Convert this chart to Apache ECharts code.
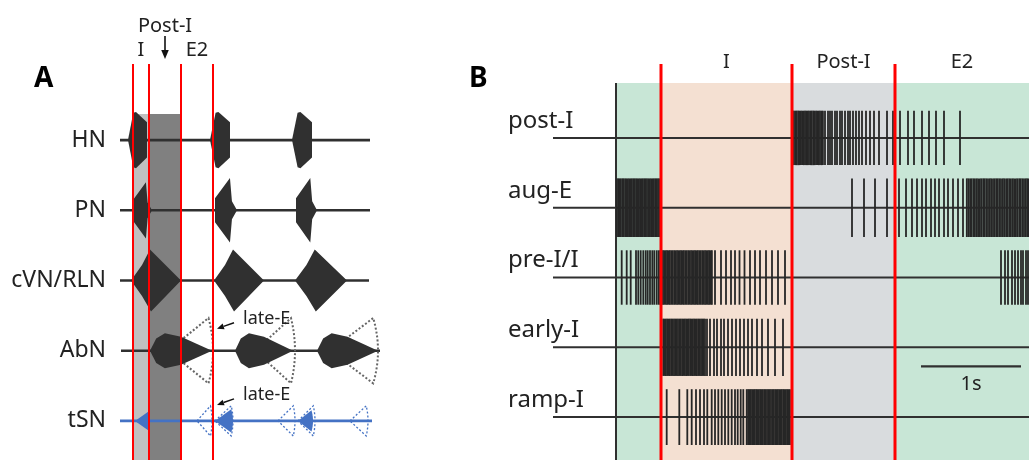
<!DOCTYPE html>
<html>
<head>
<meta charset="utf-8">
<script src="https://cdn.jsdelivr.net/npm/echarts@6/dist/echarts.min.js"></script>
<style>
  html, body { margin: 0; padding: 0; background: #fff; }
  #chart { width: 1029px; height: 460px; }
</style>
</head>
<body>
<div id="chart"></div>
<script>
// ---------- Panel A: nerve motor outputs over the respiratory cycle ----------
// time in arbitrary units, inspiration onset = 0
const nervesA = ['HN', 'PN', 'cVN/RLN', 'AbN', 'tSN'];
const phasesA = [['I', 0, 160], ['Post-I', 160, 480], ['E2', 480, 800]];
const phaseBoundsA = [0, 160, 480, 800];
const shadedPhasesA = ['I', 'Post-I'];
// recorded span of each trace [start, end]
const traceSpanA = [[-130, 2370], [-130, 2370], [-130, 2360], [-120, 2470], [-130, 2390]];
// bursts: [start, end, amplitude as fraction of half row height]
const hnBursts  = [[-50, 140, 0.8], [770, 970, 0.8], [1590, 1790, 0.8]];
const pnBursts  = [[0, 190, 0.8], [820, 1040, 0.92], [1630, 1840, 0.92]];
const cvnBursts = [[-20, 480, 0.88], [810, 1310, 0.88], [1620, 2140, 0.88]];
const abnBursts = [[170, 790, 0.5], [1020, 1600, 0.5], [1840, 2450, 0.5]];
const abnLateE  = [[350, 800, 0.93], [1220, 1620, 0.93], [1970, 2450, 0.93]];
const tsnBursts = [[20, 170, 0.27], [820, 1000, 0.33], [1650, 1800, 0.3]];
const tsnLateE  = [[640, 790, 0.43], [820, 1000, 0.43], [1450, 1620, 0.43], [1650, 1820, 0.43], [2170, 2350, 0.43]];
// late-E pointers: [time, row]
const lateEMarks = [[840, 3], [840, 4]];

// ---------- Panel B: respiratory neuron firing (time in ms, I onset = 0) ----------
const neuronsB = ['post-I', 'aug-E', 'pre-I/I', 'early-I', 'ramp-I'];
const windowStartB = -450;
const phasesB = [['E2', -450, 0, false], ['I', 0, 1310, true], ['Post-I', 1310, 2340, true], ['E2', 2340, 3680, true]];
const phaseBoundsB = [0, 1310, 2340];
const scaleBarB = [2600, 3600];

const spikesPostI = [
  1318, 1330, 1345, 1357, 1372, 1384, 1399, 1411, 1427, 1440, 1452, 1468, 1480, 1495, 1507,
  1522, 1535, 1550, 1561, 1577, 1590, 1605, 1619,
  1640, 1670, 1690, 1710, 1740, 1760, 1790, 1810, 1840, 1870, 1890, 1920, 1950, 1980, 2010,
  2050, 2090, 2130, 2180, 2260, 2320, 2390, 2470, 2530, 2610, 2680, 2750, 2830, 2990
];
const spikesAugE = [
  -441, -428, -414, -401, -386, -374, -359, -346, -331, -319, -304, -291, -277, -263, -249,
  -236, -221, -209, -194, -181, -167, -153, -140, -126, -111, -99, -84, -71, -57, -43, -30, -18,
  1910, 2030, 2140, 2260,
  2380, 2450, 2510, 2560, 2610, 2650, 2700, 2740, 2780, 2830, 2870, 2920, 2970, 3020,
  3058, 3074, 3091, 3106, 3124, 3139, 3156, 3171, 3189, 3204, 3222, 3237, 3254, 3270, 3287,
  3302, 3320, 3335, 3352, 3368, 3385, 3400, 3418, 3433, 3451, 3466, 3483, 3499, 3516, 3531,
  3549, 3564, 3582, 3597, 3614, 3630, 3647, 3662, 3678
];
const spikesPreI = [
  -393, -343, -303, -250, -227, -203, -177, -153, -133, -110, -87, -67, -43, -23,
  -8, 6, 20, 33, 48, 61, 76, 89, 104, 117, 132, 145, 160, 173, 188, 201, 216, 229, 244, 257,
  272, 285, 300, 313, 328, 341, 356, 369, 384, 397, 412, 425, 440, 453, 468, 481, 496, 509,
  540, 600, 650, 700, 740, 785, 835, 890, 940, 990, 1050, 1110, 1170, 1240,
  3400, 3440, 3470, 3510, 3540, 3570, 3600, 3620, 3650, 3670
];
const spikesEarlyI = [
  22, 35, 49, 62, 76, 89, 103, 116, 130, 143, 157, 170, 184, 197, 211, 224, 238, 251, 265,
  278, 292, 305, 319, 332, 346, 359, 373, 386, 400, 413, 427, 440,
  460, 490, 530, 560, 600, 630, 670, 710, 750, 790, 830, 870, 910, 960, 1010, 1070, 1140, 1220
];
const spikesRampI = [
  57, 183, 263, 307, 350, 390, 430, 463, 507, 540, 573, 607, 640, 673, 707, 740, 767, 797, 823,
  857, 871, 884, 898, 911, 925, 938, 952, 965, 979, 992, 1006, 1019, 1033, 1046, 1060, 1073,
  1087, 1100, 1114, 1127, 1141, 1154, 1168, 1181, 1195, 1208, 1222, 1235, 1249, 1262, 1276, 1289
];
const spikeTrainsB = [spikesPostI, spikesAugE, spikesPreI, spikesEarlyI, spikesRampI];

// ---------- styling ----------
const FONT = 'Noto Sans';
const INK = '#303030';
const TEXT = '#222';
const RED = '#ff0000';
const BLUE = '#4472c4';
const phaseFillB = { 'I': '#f4e0d2', 'Post-I': '#d9dcde', 'E2': '#c8e6d6' };
const shadeFillA = { 'I': '#c0c0c0', 'Post-I': '#808080' };
const spikeHalfB = [0.39, 0.42, 0.39, 0.41, 0.40];

// burst outlines, u across the burst (0..1), v relative to amplitude (-1..1)
const SHAPE_HN  = [[0, 0], [0.28, -0.97], [0.42, -1], [1, -0.64], [1, 0.62], [0.42, 1], [0.28, 0.97]];
const SHAPE_PN  = [[0, -0.37], [0.68, -1], [0.77, -0.28], [1, 0], [0.77, 0.28], [0.68, 1], [0, 0.37]];
const SHAPE_CVN = [[0, 0], [0.22, -0.5], [0.38, -1], [1, 0], [0.4, 1], [0.22, 0.5]];
const SHAPE_ABN = [[0, 0], [0.1, -0.7], [0.24, -1], [0.5, -0.8], [1, 0], [0.5, 0.8], [0.24, 1], [0.1, 0.7]];
const SHAPE_FAN = (function () {
  const pts = [[0, 0]];
  for (let k = -1; k <= 1.0001; k += 0.1) pts.push([0.9 + 0.1 * (1 - k * k), k]);
  return pts;
})();

function arrow(x1, y1, x2, y2, color, head, width) {
  const ang = Math.atan2(y2 - y1, x2 - x1);
  const hx = x2 - head * Math.cos(ang), hy = y2 - head * Math.sin(ang);
  const px = -Math.sin(ang) * head * 0.42, py = Math.cos(ang) * head * 0.42;
  return [
    { type: 'line', shape: { x1: x1, y1: y1, x2: hx, y2: hy }, style: { stroke: color, lineWidth: width } },
    { type: 'polygon', shape: { points: [[x2, y2], [hx + px, hy + py], [hx - px, hy - py]] }, style: { fill: color } }
  ];
}

function burstSeries(row, bursts, shape, style, z) {
  return {
    type: 'custom', xAxisIndex: 0, yAxisIndex: 0, z: z,
    encode: { x: [0, 1], y: 2 },
    data: bursts.map(b => [b[0], b[1], row, b[2]]),
    renderItem: function (params, api) {
      const r = api.value(2);
      const p0 = api.coord([api.value(0), r]);
      const p1 = api.coord([api.value(1), r]);
      const half = api.size([0, 1])[1] / 2 * api.value(3);
      const w = p1[0] - p0[0];
      const pts = shape.map(q => [p0[0] + q[0] * w, p0[1] + q[1] * half]);
      return { type: 'polygon', shape: { points: pts }, style: style };
    }
  };
}

const dotted = (color, lw) => ({ fill: 'none', stroke: color, lineWidth: lw, lineDash: [2, 2] });

const series = [];

// Panel A: phase shading
series.push({
  type: 'custom', xAxisIndex: 1, yAxisIndex: 1, z: 1, encode: { x: [0, 1] },
  data: phasesA.filter(p => shadedPhasesA.indexOf(p[0]) >= 0).map(p => [p[1], p[2]]),
  renderItem: function (params, api) {
    const cs = params.coordSys;
    const x0 = api.coord([api.value(0), 0])[0], x1 = api.coord([api.value(1), 0])[0];
    const name = shadedPhasesA[params.dataIndex];
    return { type: 'rect', shape: { x: x0, y: cs.y, width: x1 - x0, height: cs.height }, style: { fill: shadeFillA[name] } };
  }
});

// Panel A: trace baselines
series.push({
  type: 'custom', xAxisIndex: 0, yAxisIndex: 0, z: 2, encode: { x: [0, 1], y: 2 },
  data: traceSpanA.map((s, i) => [s[0], s[1], i]),
  renderItem: function (params, api) {
    const r = api.value(2);
    const a = api.coord([api.value(0), r]), b = api.coord([api.value(1), r]);
    const tsn = r === 4;
    return { type: 'line', shape: { x1: a[0], y1: a[1], x2: b[0], y2: b[1] },
      style: { stroke: tsn ? BLUE : INK, lineWidth: tsn ? 2.8 : 2.6 } };
  }
});

// Panel A: bursts
series.push(burstSeries(0, hnBursts, SHAPE_HN, { fill: INK }, 3));
series.push(burstSeries(1, pnBursts, SHAPE_PN, { fill: INK }, 3));
series.push(burstSeries(2, cvnBursts, SHAPE_CVN, { fill: INK }, 3));
series.push(burstSeries(3, abnLateE, SHAPE_FAN, dotted('#666', 2), 3));
series.push(burstSeries(3, abnBursts, SHAPE_ABN, { fill: INK }, 4));
series.push(burstSeries(4, tsnLateE, SHAPE_FAN, dotted(BLUE, 1.3), 3));
series.push(burstSeries(4, tsnBursts, SHAPE_FAN, { fill: BLUE }, 4));

// Panel A: late-E pointers
series.push({
  type: 'custom', xAxisIndex: 0, yAxisIndex: 0, z: 6, encode: { x: 0, y: 1 },
  data: lateEMarks,
  renderItem: function (params, api) {
    const p = api.coord([api.value(0), api.value(1)]);
    const ty = p[1] - 22 + (api.value(1) === 4 ? 6 : 0);
    const children = arrow(p[0] + 17, ty - 6, p[0], ty, '#111', 7, 1.5);
    children.push({ type: 'text', style: { text: 'late-E', x: p[0] + 26, y: ty - 10, fill: TEXT,
      font: '18px "' + FONT + '"', textAlign: 'left', textVerticalAlign: 'middle' } });
    return { type: 'group', children: children };
  }
});

// Panel A: phase boundaries and phase names
series.push({
  type: 'custom', xAxisIndex: 2, yAxisIndex: 2, z: 8, encode: { x: 0 },
  data: phaseBoundsA.map(t => [t]),
  renderItem: function (params, api) {
    const cs = params.coordSys;
    const x = api.coord([api.value(0), 0])[0];
    return { type: 'line', shape: { x1: x, y1: cs.y, x2: x, y2: cs.y + cs.height }, style: { stroke: RED, lineWidth: 2 } };
  }
});
series.push({
  type: 'custom', xAxisIndex: 2, yAxisIndex: 2, z: 8, encode: { x: [0, 1] },
  data: phasesA.map(p => [p[1], p[2]]),
  renderItem: function (params, api) {
    const cs = params.coordSys;
    const x = (api.coord([api.value(0), 0])[0] + api.coord([api.value(1), 0])[0]) / 2;
    const name = phasesA[params.dataIndex][0];
    const raised = name === 'Post-I';
    const children = [{ type: 'text', style: { text: name, x: x, y: cs.y - (raised ? 38 : 14), fill: TEXT,
      font: '20px "' + FONT + '"', textAlign: 'center', textVerticalAlign: 'middle' } }];
    if (raised) children.push.apply(children, arrow(x, cs.y - 28, x, cs.y - 5, '#111', 9, 1.6));
    return { type: 'group', children: children };
  }
});

// Panel B: phase background
series.push({
  type: 'custom', xAxisIndex: 4, yAxisIndex: 4, z: 0, encode: { x: [0, 1] },
  data: phasesB.map(p => [p[1], p[2]]),
  renderItem: function (params, api) {
    const cs = params.coordSys;
    const ph = phasesB[params.dataIndex];
    const x0 = api.coord([api.value(0), 0])[0], x1 = api.coord([api.value(1), 0])[0];
    const children = [{ type: 'rect', shape: { x: x0, y: cs.y, width: x1 - x0, height: cs.height }, style: { fill: phaseFillB[ph[0]] } }];
    if (ph[3]) children.push({ type: 'text', style: { text: ph[0], x: (x0 + x1) / 2, y: cs.y - 21, fill: TEXT,
      font: '20px "' + FONT + '"', textAlign: 'center', textVerticalAlign: 'middle' } });
    return { type: 'group', children: children };
  }
});
// Panel B: start of the recording window
series.push({
  type: 'custom', xAxisIndex: 4, yAxisIndex: 4, z: 2, encode: { x: 0 },
  data: [[windowStartB]],
  renderItem: function (params, api) {
    const cs = params.coordSys;
    const x = api.coord([api.value(0), 0])[0];
    return { type: 'line', shape: { x1: x, y1: cs.y, x2: x, y2: cs.y + cs.height }, style: { stroke: INK, lineWidth: 2 } };
  }
});
// Panel B: baselines
series.push({
  type: 'custom', xAxisIndex: 3, yAxisIndex: 3, z: 2, encode: { x: 0, y: 1 },
  data: neuronsB.map((n, i) => [scaleBarB[0], i]),
  renderItem: function (params, api) {
    const cs = params.coordSys;
    const y = api.coord([api.value(0), api.value(1)])[1];
    return { type: 'line', shape: { x1: cs.x, y1: y, x2: cs.x + cs.width, y2: y }, style: { stroke: INK, lineWidth: 2 } };
  }
});
// Panel B: spikes
series.push({
  type: 'custom', xAxisIndex: 3, yAxisIndex: 3, z: 3, encode: { x: 0, y: 1 },
  data: spikeTrainsB.reduce((acc, train, row) => acc.concat(train.map(t => [t, row])), []),
  renderItem: function (params, api) {
    const r = api.value(1);
    const p = api.coord([api.value(0), r]);
    const half = api.size([0, 1])[1] * spikeHalfB[r];
    return { type: 'line', shape: { x1: p[0], y1: p[1] - half, x2: p[0], y2: p[1] + half }, style: { stroke: '#262626', lineWidth: 1.8 } };
  }
});
// Panel B: scale bar
series.push({
  type: 'custom', xAxisIndex: 3, yAxisIndex: 3, z: 4, encode: { x: [0, 1], y: 2 },
  data: [[scaleBarB[0], scaleBarB[1], 3]],
  renderItem: function (params, api) {
    const a = api.coord([api.value(0), api.value(2)]), b = api.coord([api.value(1), api.value(2)]);
    const y = a[1] + 19;
    return { type: 'group', children: [
      { type: 'line', shape: { x1: a[0], y1: y, x2: b[0], y2: y }, style: { stroke: INK, lineWidth: 2.2 } },
      { type: 'text', style: { text: ((scaleBarB[1] - scaleBarB[0]) / 1000) + 's', x: (a[0] + b[0]) / 2, y: y + 18, fill: TEXT,
        font: '20px "' + FONT + '"', textAlign: 'center', textVerticalAlign: 'middle' } }
    ] };
  }
});
// Panel B: phase boundaries
series.push({
  type: 'custom', xAxisIndex: 5, yAxisIndex: 5, z: 8, encode: { x: 0 },
  data: phaseBoundsB.map(t => [t]),
  renderItem: function (params, api) {
    const cs = params.coordSys;
    const x = api.coord([api.value(0), 0])[0];
    return { type: 'line', shape: { x1: x, y1: cs.y, x2: x, y2: cs.y + cs.height }, style: { stroke: RED, lineWidth: 3 } };
  }
});

const hiddenValueY = (g) => ({ type: 'value', gridIndex: g, min: 0, max: 1, show: false });
const hiddenX = (g, r) => ({ type: 'value', gridIndex: g, min: r[0], max: r[1], show: false });
const A_RANGE = [-150, 2470];
const B_RANGE = [-1080, 3680];

const option = {
  animation: false,
  backgroundColor: '#fff',
  textStyle: { fontFamily: FONT },
  title: [
    { text: 'A', left: 29, top: 60, textStyle: { fontSize: 28, fontWeight: 'bold', color: '#000', fontFamily: FONT } },
    { text: 'B', left: 464, top: 60, textStyle: { fontSize: 28, fontWeight: 'bold', color: '#000', fontFamily: FONT } }
  ],
  grid: [
    { left: 118, width: 262, top: 105, height: 351 },
    { left: 118, width: 262, top: 114, bottom: 0 },
    { left: 118, width: 262, top: 64, bottom: 0 },
    { left: 553, width: 476, top: 103, height: 349 },
    { left: 553, width: 476, top: 83, bottom: 0 },
    { left: 553, width: 476, top: 64, bottom: 0 }
  ],
  xAxis: [hiddenX(0, A_RANGE), hiddenX(1, A_RANGE), hiddenX(2, A_RANGE), hiddenX(3, B_RANGE), hiddenX(4, B_RANGE), hiddenX(5, B_RANGE)],
  yAxis: [
    { type: 'category', gridIndex: 0, data: nervesA, inverse: true,
      axisLine: { show: false }, axisTick: { show: false }, splitLine: { show: false },
      axisLabel: { fontSize: 23, color: TEXT, margin: 12, fontFamily: FONT, interval: 0 } },
    hiddenValueY(1), hiddenValueY(2),
    { type: 'category', gridIndex: 3, data: neuronsB, inverse: true,
      axisLine: { show: false }, axisTick: { show: false }, splitLine: { show: false },
      axisLabel: { fontSize: 24, color: TEXT, margin: 45, align: 'left', verticalAlign: 'middle',
        lineHeight: 34, formatter: name => name + '\n ', fontFamily: FONT,
        interval: 0, showMinLabel: true, showMaxLabel: true, hideOverlap: false } },
    hiddenValueY(4), hiddenValueY(5)
  ],
  series: series
};

const chart = echarts.init(document.getElementById('chart'));
chart.setOption(option);
</script>
</body>
</html>
